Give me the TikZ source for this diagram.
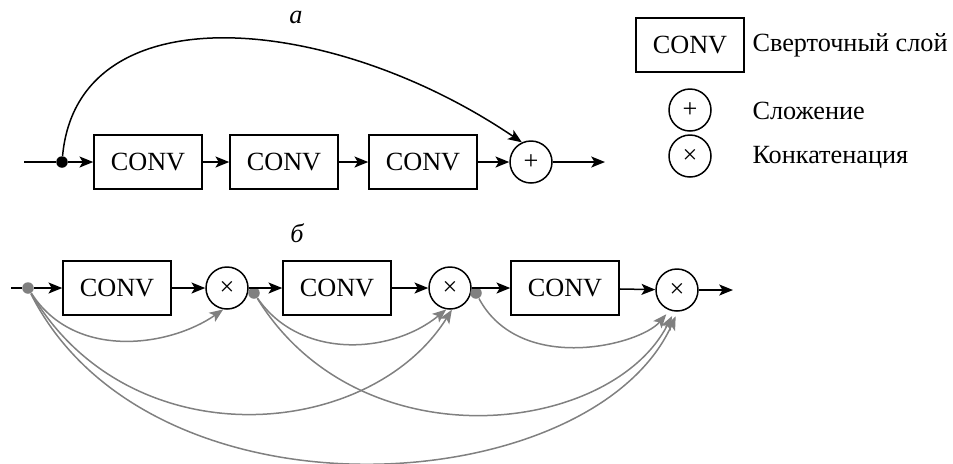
\documentclass[tikz,border=0pt]{standalone}
\usepackage{fontspec}
\setmainfont{Liberation Serif}
\usetikzlibrary{arrows.meta}

\begin{document}
\begin{tikzpicture}[x=0.4pt, y=0.4pt, font=\fontsize{10.5}{12}\selectfont,
    conv/.style = {draw, line width=0.6pt, minimum width=43.2pt, minimum height=21.6pt, inner sep=0pt},
    op/.style = {draw, circle, line width=0.6pt, minimum size=16.8pt, inner sep=0pt},
    flow/.style = {line width=0.6pt, -{Stealth[length=5.5pt,width=4.4pt,inset=1.3pt]}},
    skip/.style = {flow, gray},
    dot/.style = {circle, fill, inner sep=0pt, minimum size=4.6pt},
    txt/.style = {anchor=west, inner sep=0pt}]
  \useasboundingbox (0,0) rectangle (953,-463);

  % a
  \node at (296,-17) {\itshape а};
  \coordinate (ina) at (24,-162);
  \node[dot] (da) at (62,-162) {};
  \node[conv] (a1) at (148,-162) {CONV};
  \node[conv] (a2) at (284,-162) {CONV};
  \node[conv] (a3) at (423,-162) {CONV};
  \node[op] (sa) at (531,-162) {+};
  \coordinate (outa) at (605,-162);
  \draw[line width=0.6pt] (ina) -- (da);
  \draw[flow] (da) -- (a1);
  \draw[flow] (a1) -- (a2);
  \draw[flow] (a2) -- (a3);
  \draw[flow] (a3) -- (sa);
  \draw[flow] (sa) -- (outa);
  \draw[flow] (da) .. controls +(16,172) and +(-190,129) .. (sa.115);

  % legend
  \node[conv] (lc) at (690,-45) {CONV};
  \node[txt] at (752,-45) {Сверточный слой};
  \node[op] (lp) at (690,-110) {+};
  \node[txt] at (752,-111) {Сложение};
  \node[op] (lx) at (690,-156) {×};
  \node[txt] at (752,-157) {Конкатенация};

  % b
  \node at (297,-233) {\itshape б};
  \coordinate (inb) at (11,-288);
  \node[dot, gray] (d1) at (28,-288) {};
  \node[conv] (b1) at (117,-288) {CONV};
  \node[op] (x1) at (227,-288) {×};
  \node[dot, gray] (d2) at (254,-293) {};
  \node[conv] (b2) at (337,-288) {CONV};
  \node[op] (x2) at (450,-288) {×};
  \node[dot, gray] (d3) at (476,-293) {};
  \node[conv] (b3) at (565,-288) {CONV};
  \node[op] (x3) at (677,-290) {×};
  \coordinate (outb) at (733,-290);
  \draw[line width=0.6pt] (inb) -- (d1);
  \draw[flow] (d1) -- (b1);
  \draw[flow] (b1) -- (x1);
  \draw[flow] (x1) -- (b2);
  \draw[flow] (b2) -- (x2);
  \draw[flow] (x2) -- (b3);
  \draw[flow] (b3) -- (x3);
  \draw[flow] (x3) -- (outb);

  % dense links
  \draw[skip] (d1) .. controls +(47,-73) and +(-53,-37) .. (x1.-100);
  \draw[skip] (d1) .. controls +(102,-173) and +(-82,-131) .. (x2.-85);
  \draw[skip, shorten >=2pt] (d1) .. controls +(122,-243) and +(-86,-189) .. (x3.-88);
  \draw[skip] (d2) .. controls +(46,-67) and +(-55,-45) .. (x2.-100);
  \draw[skip, shorten >=2pt] (d2) .. controls +(106,-172) and +(-64,-124) .. (x3.-97);
  \draw[skip, shorten >=2pt] (d3) .. controls +(44,-82) and +(-30,-35) .. (x3.-110);
\end{tikzpicture}
\end{document}
